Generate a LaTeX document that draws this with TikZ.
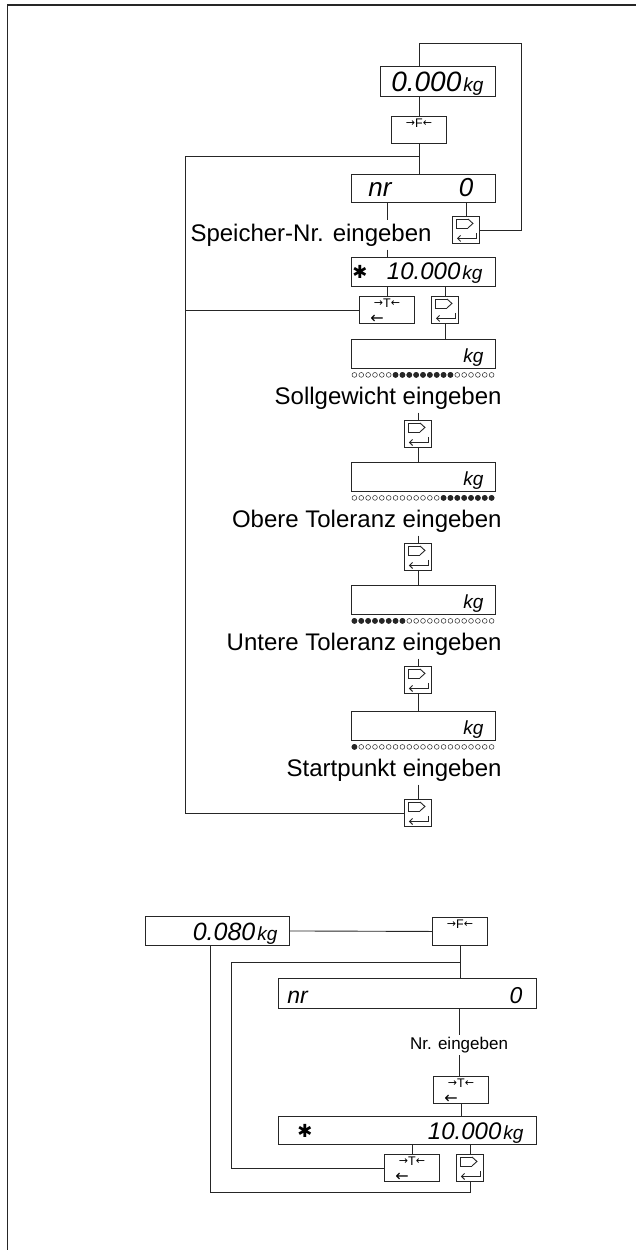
\documentclass[tikz,border=0pt]{standalone}
\usepackage{fontspec}
\setmainfont{Liberation Sans}
\newfontfamily\symfont{DejaVu Sans}
\usetikzlibrary{arrows.meta}
\newcommand\segf[1]{\fontsize{#1}{#1}\selectfont\itshape}
\newcommand\unitf{\fontsize{19}{19}\selectfont\itshape}
\newcommand\keyR{\raisebox{1pt}{\symfont\fontsize{11}{11}\selectfont →}}
\newcommand\keyL{\raisebox{1pt}{\symfont\fontsize{11}{11}\selectfont ←}}
\newcommand\starf{{\symfont\fontsize{18}{18}\selectfont ✱}}
\tikzset{
  disp/.style={draw, anchor=north west, minimum height=29pt, inner sep=0pt},
  digits/.style={anchor=base east, inner sep=0pt, text=black},
  key/.style={draw, anchor=north west, minimum width=55pt, minimum height=27pt, inner sep=0pt},
  enterkey/.style={draw, anchor=north west, minimum width=27pt, minimum height=27pt, inner sep=0pt},
  keytext/.style={font=\fontsize{12.5}{12.5}\selectfont, inner sep=0pt, text height=9pt, text depth=0pt, text=black},
  keyarrow/.style={font=\symfont\fontsize{16}{16}\selectfont, inner sep=0pt, text height=6pt, text depth=0pt, anchor=base west, text=black},
  prompt/.style={font=\fontsize{24}{24}\selectfont, inner xsep=0pt, inner ysep=3pt, text=black},
  entersym/.pic={
    \draw[line width=0.9pt] (2,-11) -- (-10,-11) -- (-10,-2) -- (2,-2);
    \draw[line width=0.9pt] (2,-11) -- (7,-6.5) -- (2,-2);
    \draw[line width=0.9pt, -{Straight Barb[length=3pt,width=6pt]}] (10,3) -- (10,8.5) -- (-9,8.5);
  }
}
\begin{document}
\begin{tikzpicture}[x=1pt, y=-1pt, line width=0.9pt, color=black!85]
\useasboundingbox (0,0) rectangle (636,1250);
\draw[line width=2pt] (7,5) -- (636,5);
\draw (7,5) -- (7,1250);

\node[disp, minimum width=115pt, minimum height=30pt] (d1) at (380,66) {};
\node[digits] (d1v) at ([xshift=-12pt,yshift=5pt]d1.south east) {\segf{28}0.000\hspace{2pt}\unitf kg};
\node[key] (kF1) at (391,116) {};
\node[keytext, anchor=north] (kF1a) at ([yshift=-2.5pt]kF1.north) {\keyR F\keyL};
\node[disp, minimum width=144pt, minimum height=28pt] (dNR) at (351,174) {};
\node[digits, anchor=base west] (dNRa) at ([xshift=17pt,yshift=6pt]dNR.south west) {\segf{26}nr};
\node[digits] (dNRb) at ([xshift=-22pt,yshift=6pt]dNR.south east) {\segf{26}0};
\node[prompt, anchor=east] (tS) at (432,235) {Speicher-Nr. eingeben};
\node[disp, minimum width=144pt] (d2) at (351,257) {};
\node[text=black] (d2s) at ([xshift=9pt]d2.west) {\starf};
\node[digits] (d2v) at ([xshift=-13pt,yshift=7pt]d2.south east) {\segf{24}10.000\hspace{2pt}\unitf kg};

\node[disp, minimum width=144pt] (d7) at (145,916) {};
\node[digits] (d7v) at ([xshift=-12pt,yshift=5pt]d7.south east) {\segf{25}0.080\hspace{2pt}\unitf kg};
\node[key, minimum height=28pt] (kF2) at (432,917) {};
\node[keytext, anchor=north] (kF2a) at ([yshift=-2.5pt]kF2.north) {\keyR F\keyL};
\node[disp, minimum width=258pt, minimum height=30pt] (d8) at (278,978) {};
\node[digits, anchor=base west] (d8a) at ([xshift=9pt,yshift=5pt]d8.south west) {\segf{23}nr};
\node[digits] (d8b) at ([xshift=-14pt,yshift=5pt]d8.south east) {\segf{23}0};
\node[font=\fontsize{17}{17}\selectfont, inner sep=2pt, text=black] (tNr) at (459,1045) {Nr. eingeben};
\node[disp, minimum width=258pt, minimum height=28pt] (d9) at (278,1116) {};
\node[text=black] (d9s) at ([xshift=27pt]d9.west) {\starf};
\node[digits] (d9v) at ([xshift=-13pt,yshift=5pt]d9.south east) {\segf{24}10.000\hspace{2pt}\unitf kg};

\foreach \kn/\x/\y in {kT1/359/296, kT2/433/1076, kT3/384/1154}
{
  \node[key] (\kn) at (\x,\y) {};
  \node[keytext, anchor=north] (\kn a) at ([yshift=-2.5pt]\kn.north) {\keyR T\keyL};
  \node[keyarrow] (\kn b) at ([xshift=11pt,yshift=0.5pt]\kn.south west) {←};
}
\foreach \kn/\x/\y in {e1/452/216, e2/431/296, f1/456/1154}
{
  \node[enterkey] (\kn) at (\x,\y) {};
  \pic at (\kn) {entersym};
}

\foreach \n/\y/\ky/\lo/\hi/\txt [evaluate=\n as \prev using int(\n-1)] in
  {3/339/420/6/14/Sollgewicht eingeben, 4/462/543/13/20/Obere Toleranz eingeben,
   5/585/666/0/7/Untere Toleranz eingeben, 6/711/799/0/0/Startpunkt eingeben}
{
  \node[disp, minimum width=144pt] (d\n) at (351,\y) {};
  \node[digits] (u\n) at ([xshift=-12pt,yshift=6pt]d\n.south east) {\unitf kg};
  \foreach \i in {0,...,20}
    \draw[line width=0.5pt] ([xshift=3.4pt+\i*6.86pt, yshift=-6pt]d\n.south west) circle (2.4);
  \foreach \i in {\lo,...,\hi}
    \fill ([xshift=3.4pt+\i*6.86pt, yshift=-6pt]d\n.south west) circle (2.9);
  \node[prompt, anchor=east] (t\n) at (502,\y+59) {\txt};
  \node[enterkey] (e\n) at (404,\ky) {};
  \pic at (e\n) {entersym};
  \draw (e\prev.south) -- (e\prev.south |- d\n.north);
  \draw (t\n.south -| e\n) -- (e\n.north);
}

\coordinate (L0) at (521,43);
\coordinate (L1) at (185,156);
\draw (e1.east) -| (L0) -| (d1.north -| kF1);
\draw (d1.south -| kF1) -- (kF1.north);
\draw (kF1.south) -- (dNR.north -| kF1);
\draw (kF1.south |- L1) -- (L1) |- (e6.west);
\draw (dNR.south -| kT1) -- (tS.north -| kT1);
\draw (tS.south -| kT1) -- (d2.north -| kT1);
\draw (dNR.south -| e1) -- (e1.north);
\draw (d2.south -| kT1) -- (kT1.north);
\draw (d2.south -| e2) -- (e2.north);
\draw (kT1.west) -- (kT1.west -| L1);

\coordinate (L2) at (231,962);
\coordinate (L3) at (210,1192);
\draw (d7.east) -- (kF2.west);
\draw (kF2.south) -- (kF2.south |- d8.north);
\draw (kF2.south |- L2) -- (L2) |- (kT3.west);
\draw (d8.south -| tNr) -- (tNr.north);
\draw (tNr.south) -- (tNr.south |- kT2.north);
\draw (kT2.south) -- (kT2.south |- d9.north);
\draw (d9.south -| kT3) -- (kT3.north);
\draw (d9.south -| f1) -- (f1.north);
\draw (d7.south -| L3) -- (L3) -| (f1.south);
\end{tikzpicture}
\end{document}
